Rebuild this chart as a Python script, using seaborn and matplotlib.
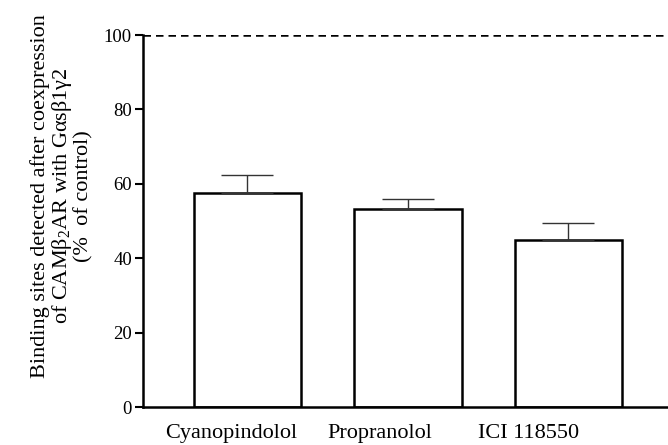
import pandas as pd
import matplotlib
matplotlib.use("Agg")
import matplotlib.pyplot as plt
import matplotlib.transforms as mtransforms
import seaborn as sns

# Daten aus der Abbildung
antagonisten = ["Cyanopindolol", "Propranolol", "ICI 118550"]
bindung_prozent = [57.5, 53.3, 45.0]
sem_prozent = [4.9, 2.7, 4.5]
kontrolle = 100

df = pd.DataFrame({"ligand": antagonisten, "wert": bindung_prozent, "sem": sem_prozent})

sns.set_theme(style="ticks")
plt.rcParams["font.family"] = ["Liberation Serif", "DejaVu Serif"]
plt.rcParams["mathtext.fontset"] = "custom"
plt.rcParams["mathtext.rm"] = "Liberation Serif"
plt.rcParams["mathtext.it"] = "Liberation Serif:italic"

fig = plt.figure(figsize=(6.68, 4.45), dpi=100)
ax = fig.add_axes([143 / 668, 1 - 407 / 445, 1 - 143 / 668, (407 - 35) / 445])

sns.barplot(data=df, x="ligand", y="wert", color="white", edgecolor="black",
            linewidth=1.8, width=0.67, errorbar=None, ax=ax)

# Fehlerbalken nur nach oben
ax.errorbar(range(len(df)), df["wert"], yerr=[[0] * len(df), df["sem"]],
            fmt="none", ecolor="#333333", elinewidth=1.0, capsize=19, capthick=1.0)

ax.axhline(kontrolle, color="black", linestyle=(0, (3, 2)), linewidth=1.8, zorder=0)

ax.set_ylim(0, 100)
ax.set_xlim(-0.65, 2.62)
ax.set_yticks([0, 20, 40, 60, 80, 100])
ax.set_xlabel("")
ax.set_ylabel("")
ax.tick_params(axis="y", length=6, width=1.5, pad=2, labelsize=13.5, color="black", labelcolor="black")
ax.tick_params(axis="x", length=0, pad=12, labelsize=16, labelcolor="black")

# Beschriftungen im Original etwas nach links versetzt
for lab, dx in zip(ax.get_xticklabels(), [-12, -20, -29]):
    lab.set_transform(lab.get_transform() + mtransforms.ScaledTranslation(dx / 72, 0, fig.dpi_scale_trans))

for s in ["top", "right"]:
    ax.spines[s].set_visible(False)
for s in ["left", "bottom"]:
    ax.spines[s].set_linewidth(1.8)
    ax.spines[s].set_color("black")

fig.text(62 / 668, 1 - 196 / 445,
         "Binding sites detected after coexpression\n"
         "of CAM\u03b2$_{2}$AR with G\u03b1s\u03b21\u03b32\n"
         "(%  of control)",
         rotation=90, ha="center", va="center", multialignment="center",
         fontsize=16, linespacing=1.0, color="black")

fig.savefig("out.png", dpi=100, facecolor="white")
